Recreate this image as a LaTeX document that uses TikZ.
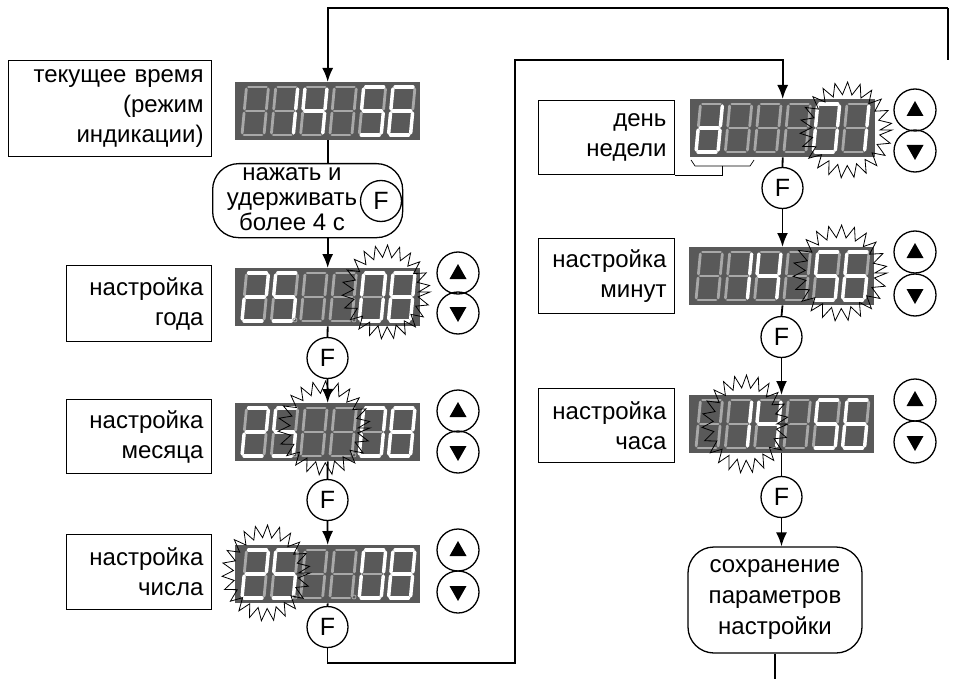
\documentclass[tikz,border=0pt]{standalone}
\usepackage{fontspec}
\setmainfont{Liberation Sans}
\usetikzlibrary{arrows.meta}
\definecolor{dispc}{HTML}{595959}
\definecolor{segoff}{HTML}{A8A8A8}
\tikzset{
  segon/.style={draw=white,line width=3.4,line cap=round},
  segoffst/.style={draw=segoff,line width=2.8,line cap=round},
  dispbox/.style={fill=dispc,draw=none,minimum width=185,minimum height=58,anchor=north west,inner sep=0},
  lab/.style={draw,line width=1,align=right,inner xsep=8,anchor=north west},
  fbtn/.style={draw,circle,line width=1.3,minimum size=41,inner sep=0,fill=white,font=\fontsize{25}{30}\selectfont},
  btn/.style={draw,circle,line width=1.3,minimum size=42,inner sep=0},
  rbox/.style={draw,line width=1.3,rounded corners=26,anchor=north west,inner sep=0},
  ln/.style={line width=1.8},
  arr/.style={line width=1.8,-{Latex[length=14,width=11]}},
  burst/.style={line width=0.8,draw=black},
  brk/.style={line width=0.7}
}
\newcommand\SegA[1]{\draw[#1] (2,0) -- (20,0);}
\newcommand\SegB[1]{\draw[#1] (22,2) -- (22,22);}
\newcommand\SegC[1]{\draw[#1] (22,26) -- (22,46);}
\newcommand\SegD[1]{\draw[#1] (2,48) -- (20,48);}
\newcommand\SegE[1]{\draw[#1] (0,26) -- (0,46);}
\newcommand\SegF[1]{\draw[#1] (0,2) -- (0,22);}
\newcommand\SegG[1]{\draw[#1] (2,24) -- (20,24);}
\newcommand\SegZ[1]{}
\newcommand\Digit[3]{%
  \begin{scope}[shift={(#1+4.5,#2)},xslant=0.094]
    \foreach \sg in {A,B,C,D,E,F,G} {\csname Seg\sg\endcsname{segoffst}}
    \foreach \sg in {#3} {\csname Seg\sg\endcsname{segon}}
  \end{scope}}
\newcommand\Burst[4]{%
  \draw[burst] ({#1+#3},{#2}) \foreach \k [evaluate=\k as \rr using {mod(\k,2)==0 ? 1 : 0.74}] in {1,...,45} { -- ({#1+\rr*#3*cos(\k*8)},{#2+\rr*#4*sin(\k*8)}) } -- cycle;}
\newcommand\UpBtn[3]{\node[btn] (#1) at (#2,#3) {};
  \fill ({#2-8.5},{#3+6}) -- ({#2+8.5},{#3+6}) -- ({#2},{#3-9}) -- cycle;}
\newcommand\DnBtn[3]{\node[btn] (#1) at (#2,#3) {};
  \fill ({#2-8.5},{#3-6}) -- ({#2+8.5},{#3-6}) -- ({#2},{#3+9}) -- cycle;}
\newcommand\TimeDigits[2]{%
  \Digit{#1}{#2}{Z}
  \Digit{#1+29.3}{#2}{B,C}
  \Digit{#1+58.6}{#2}{F,G,B,C}
  \Digit{#1+87.9}{#2}{Z}
  \Digit{#1+117.2}{#2}{A,F,G,C,D}
  \Digit{#1+146.5}{#2}{A,F,G,E,C,D}}
\newcommand\DateDigits[2]{%
  \Digit{#1}{#2}{A,B,G,E,D}
  \Digit{#1+29.3}{#2}{A,F,G,C,D}
  \Digit{#1+58.6}{#2}{Z}
  \Digit{#1+87.9}{#2}{Z}
  \Digit{#1+117.2}{#2}{A,B,C,D,E,F}
  \Digit{#1+146.5}{#2}{A,B,C,D,E,F,G}
  \draw[segoff,line width=0.8] ({#1+53},{#2+47}) circle (2);
  \draw[segoff,line width=0.8] ({#1+112},{#2+47}) circle (2);}
\begin{document}
\begin{tikzpicture}[x=1pt,y=-1pt,every node/.style={font=\fontsize{24}{30}\selectfont}]
\useasboundingbox (0,0) rectangle (974,679);
% ---------- displays ----------
\node[dispbox] (D1) at (235,82) {};
\node[dispbox] (D2) at (235,268) {};
\node[dispbox] (D3) at (235,403) {};
\node[dispbox] (D4) at (235,545) {};
\node[dispbox] (D5) at (690,99) {};
\node[dispbox] (D6) at (689,247) {};
\node[dispbox] (D7) at (689,395) {};
\TimeDigits{242}{87}
\DateDigits{242}{273}
\DateDigits{242}{408}
\DateDigits{242}{550}
\Digit{696}{104}{B,C,D,E,G}
\Digit{725.3}{104}{Z}
\Digit{754.6}{104}{Z}
\Digit{783.9}{104}{Z}
\Digit{813.2}{104}{A,B,C,D,E,F}
\Digit{842.5}{104}{B,C}
\TimeDigits{696}{252}
\TimeDigits{696}{400}
% ---------- bursts ----------
\Burst{386}{292}{44}{47}
\Burst{324}{428}{46}{47}
\Burst{266}{573}{44}{48}
\Burst{846}{130}{46}{48}
\Burst{840}{273}{47}{48}
\Burst{745}{424}{43}{49}
% ---------- labels ----------
\node[lab,text width=187,minimum height=96] (L1) at (8,60) {текущее время\\(режим\\индикации)};
\node[lab,text width=129,minimum height=76] (L2) at (66,265) {настройка\\года};
\node[lab,text width=129,minimum height=74] (L3) at (66,399) {настройка\\месяца};
\node[lab,text width=129,minimum height=75] (L4) at (66,534) {настройка\\числа};
\node[lab,text width=120,minimum height=74] (L5) at (538,100) {день\\недели};
\node[lab,text width=120,minimum height=75] (L6) at (538,238) {настройка\\минут};
\node[lab,text width=120,minimum height=74] (L7) at (538,388) {настройка\\часа};
% ---------- rounded boxes ----------
\node[rbox,minimum width=190,minimum height=74] (R1) at (212,163) {};
\node[align=center,font=\fontsize{24}{25}\selectfont,inner sep=0] (R1t) at (292,199) {нажать и\\удерживать\\более 4 с};
\node[rbox,anchor=center,minimum width=174,minimum height=106,align=center,font=\fontsize{24}{31}\selectfont] (S) at (775,600) {сохранение\\параметров\\настройки};
% ---------- F buttons ----------
\node[fbtn] (F0) at (381,201) {F};
\node[fbtn] (F1) at (327.5,358) {F};
\node[fbtn] (F2) at (327.5,500) {F};
\node[fbtn] (F3) at (327.5,627) {F};
\node[fbtn] (F4) at (782.5,188) {F};
\node[fbtn] (F5) at (781.5,337) {F};
\node[fbtn] (F6) at (781.5,497) {F};
% ---------- arrow buttons ----------
\UpBtn{U2}{458}{273} \DnBtn{V2}{458}{313}
\UpBtn{U3}{458}{411} \DnBtn{V3}{458}{452}
\UpBtn{U4}{458}{550} \DnBtn{V4}{458}{592}
\UpBtn{U5}{915}{110} \DnBtn{V5}{915}{151}
\UpBtn{U6}{915}{252} \DnBtn{V6}{915}{295}
\UpBtn{U7}{915}{400} \DnBtn{V7}{915}{442}
% ---------- bracket ----------
\coordinate (DB) at (722,166);
\draw[brk] (691,160) -- (695,166) -- (750,166) -- (754,160);
\draw[brk] (DB) -- (DB |- L5.south) -- (L5.south east);
% ---------- connectors ----------
\coordinate (TR) at (948,8);
\coordinate (TRb) at (948,60);
\coordinate (B1) at (515,663);
\coordinate (B2) at (515,60);
\coordinate (BOT) at (0,679);
\draw[ln] (TRb) -- (TR);
\draw[arr] (TR) -- (D1.north |- TR) -- (D1.north);
\draw[ln] (D1.south) -- (D1.south |- R1.north);
\draw[arr] (D1.south |- R1.south) -- (D2.north);
\draw[ln] (D2.south) -- (F1.north);
\draw[arr] (F1.south) -- (D3.north);
\draw[ln] (D3.south) -- (F2.north);
\draw[arr] (F2.south) -- (D4.north);
\draw[ln] (D4.south) -- (F3.north);
\draw[arr] (F3.south) -- (F3.south |- B1) -- (B1) -- (B2) -- (D5.north |- B2) -- (D5.north);
\draw[ln] (D5.south) -- (F4.north);
\draw[arr] (F4.south) -- (F4.south |- D6.north);
\draw[ln] (F4.south |- D6.south) -- (F5.north);
\draw[arr] (F5.south) -- (F5.south |- D7.north);
\draw[ln] (F5.south |- D7.south) -- (F6.north);
\draw[arr] (F6.south) -- (F6.south |- S.north);
\draw[ln] (S.south) -- (S.south |- BOT);
\end{tikzpicture}
\end{document}
